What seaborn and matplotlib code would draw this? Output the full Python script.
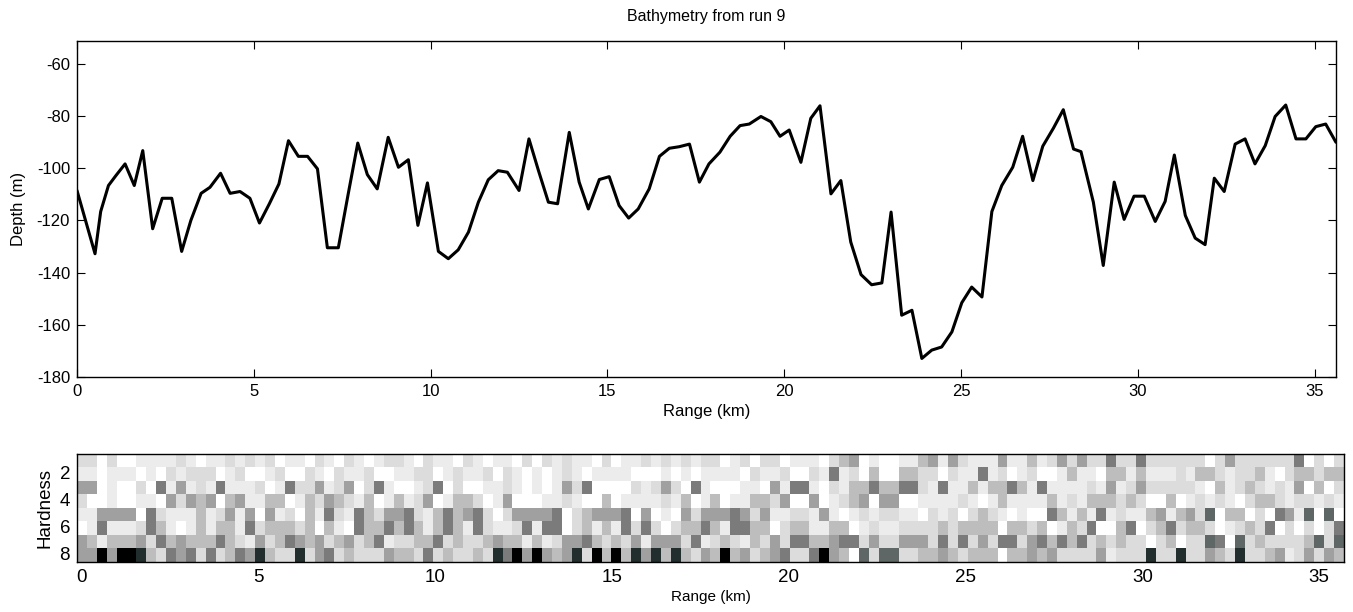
import numpy as np
import pandas as pd
import seaborn as sns
import matplotlib.pyplot as plt
from matplotlib.colors import ListedColormap

# Bathymetry profile (range in km, depth in m)
range_km = [0.00, 0.51, 0.67, 0.89, 1.10, 1.36, 1.62, 1.86, 2.14, 2.41,
            2.68, 2.96, 3.22, 3.51, 3.76, 4.06, 4.33, 4.61, 4.89, 5.16,
            5.44, 5.71, 5.98, 6.26, 6.52, 6.80, 7.08, 7.39, 7.67, 7.94,
            8.21, 8.49, 8.80, 9.09, 9.37, 9.64, 9.91, 10.22, 10.50, 10.78,
            11.07, 11.35, 11.63, 11.91, 12.17, 12.50, 12.78, 13.05, 13.33, 13.59,
            13.92, 14.20, 14.46, 14.77, 15.05, 15.33, 15.60, 15.87, 16.18, 16.47,
            16.75, 17.03, 17.32, 17.60, 17.87, 18.18, 18.47, 18.75, 19.01, 19.34,
            19.62, 19.88, 20.14, 20.47, 20.75, 21.01, 21.32, 21.60, 21.88, 22.17,
            22.47, 22.76, 23.02, 23.32, 23.61, 23.89, 24.17, 24.45, 24.74, 25.02,
            25.30, 25.59, 25.87, 26.15, 26.46, 26.74, 27.03, 27.31, 27.61, 27.89,
            28.18, 28.39, 28.74, 29.02, 29.33, 29.61, 29.89, 30.18, 30.49, 30.77,
            31.03, 31.34, 31.62, 31.90, 32.16, 32.44, 32.75, 33.03, 33.31, 33.60,
            33.88, 34.18, 34.47, 34.75, 35.03, 35.31, 35.60]
depth_m = [-108.5, -132.8, -116.6, -106.6, -102.8, -98.3, -106.6, -93.2, -123.2, -111.5,
           -111.5, -131.9, -120.0, -109.6, -107.3, -101.9, -109.6, -108.9, -111.5, -121.0,
           -113.6, -106.0, -89.4, -95.4, -95.4, -100.2, -130.5, -130.5, -109.8, -90.3,
           -102.4, -107.9, -88.1, -99.6, -96.7, -121.9, -105.6, -131.9, -134.7, -131.3,
           -124.5, -113.0, -104.4, -100.9, -101.5, -108.5, -88.7, -100.9, -113.0, -113.6,
           -86.2, -105.3, -115.6, -104.3, -103.2, -114.3, -119.1, -115.6, -107.9, -95.4,
           -92.3, -91.7, -90.7, -105.3, -98.3, -93.8, -87.7, -83.6, -83.0, -80.1,
           -82.1, -87.7, -85.3, -97.7, -80.8, -76.0, -109.8, -104.7, -128.3, -140.8,
           -144.7, -144.0, -116.8, -156.4, -154.5, -173.0, -169.8, -168.6, -162.8, -151.6,
           -145.6, -149.4, -116.6, -106.6, -99.6, -87.7, -104.7, -91.5, -84.6, -77.5,
           -92.6, -93.6, -113.0, -137.3, -105.3, -119.6, -110.7, -110.7, -120.4, -112.7,
           -94.9, -118.1, -126.8, -129.3, -103.8, -108.9, -90.7, -88.7, -98.3, -91.3,
           -80.1, -75.7, -88.7, -88.7, -84.0, -83.0, -90.0]

# Hardness grey levels (0 = white ... 9 = black), one string per hardness class 1..8
hardness_1 = ("22020011112101121212011021" "0210122102110210110202121"
              "10201121212122012022011102" "4501001145152111511412525"
              "22622622222202522222260202")
hardness_2 = ("11011101021222012001200210" "2112001122012112021010121"
              "01111000101011110211200216" "1204004422021161201200141"
              "10441411121442122410244244")
hardness_3 = ("55010020615121611120162251" "2502610012602001121010152"
              "60000212520610001105166102" "1446446621611414464161111"
              "21512522222104124212150402")
hardness_4 = ("20010011052545045114401425" "4214014125014420150001121"
              "00401111214014011442500501" "2450550011112101411114121"
              "44424200401212102442122121")
hardness_5 = ("11555506211141251505120416" "2164255621464562025555602"
              "45556050105255565251122151" "0121221102120242101006414"
              "16121145145270440206517070")
hardness_6 = ("01611126410141441624442404" "1064464641464162112616602"
              "41416262024464166440244114" "4012112222424444044240142"
              "60046024624420124260202026")
hardness_7 = ("54144452645444642152465452" "4524612244624224544141255"
              "64242515552612421425266445" "6625225552626252662564646"
              "24242202402276072422224727")
hardness_8 = ("55959984265626246584228256" "2422254426242242869595458"
              "29494858484254945245622695" "4072772244542444044545222"
              "25122282282254282245125254")
hardness_rows = [hardness_1, hardness_2, hardness_3, hardness_4,
                 hardness_5, hardness_6, hardness_7, hardness_8]
hardness_classes = [1, 2, 3, 4, 5, 6, 7, 8]
cell_km = 0.28

range_ticks = [0, 5, 10, 15, 20, 25, 30, 35]
depth_ticks = [-180, -160, -140, -120, -100, -80, -60]
hardness_ticks = [2, 4, 6, 8]

sns.set_style("ticks")
plt.rcParams['font.family'] = ['Liberation Sans', 'DejaVu Sans']
plt.rcParams['axes.unicode_minus'] = False
for key in ['text.color', 'axes.labelcolor', 'xtick.color', 'ytick.color']:
    plt.rcParams[key] = 'black'

fig = plt.figure(figsize=(13.53, 6.12), dpi=100)
ax1 = fig.add_axes([0.0569, 0.3845, 0.9305, 0.549])
ax2 = fig.add_axes([0.0569, 0.0817, 0.9364, 0.1765])

# top: depth profile
profile = pd.DataFrame({'Range (km)': range_km, 'Depth (m)': depth_m})
sns.lineplot(data=profile, x='Range (km)', y='Depth (m)', ax=ax1,
             color='black', linewidth=2.2)
ax1.set_xlim(0, 35.6)
ax1.set_ylim(-180, -51)
ax1.set_xticks(range_ticks)
ax1.set_yticks(depth_ticks)
ax1.tick_params(direction='in', top=True, right=True, length=6, width=0.8,
                labelsize=12, pad=5)
ax1.set_title('Bathymetry from run 9', fontsize=11.5, pad=14)
ax1.set_xlabel('Range (km)', fontsize=12, labelpad=4)
ax1.set_ylabel('Depth (m)', fontsize=12, labelpad=8)
for s in ax1.spines.values():
    s.set_linewidth(1.0)
    s.set_color('black')

# bottom: hardness image
levels = np.array([[int(c) for c in row] for row in hardness_rows])
grid = pd.DataFrame(levels, index=hardness_classes)
greys = ListedColormap(['#ffffff', '#ececec', '#dcdcdc', '#cccccc', '#bdbdbd',
                        '#a0a0a0', '#7b7b7b', '#5e6666', '#222d2d', '#000000'])
sns.heatmap(grid, ax=ax2, cmap=greys, vmin=-0.5, vmax=9.5, cbar=False)
ax2.set_xticks([k / cell_km + 0.5 for k in range_ticks])
ax2.set_xticklabels([str(k) for k in range_ticks], rotation=0)
ax2.set_yticks([h - 0.5 for h in hardness_ticks])
ax2.set_yticklabels([str(h) for h in hardness_ticks], rotation=0)
ax2.tick_params(direction='in', top=True, right=True, length=5, width=0.8,
                labelsize=13.5, pad=5)
ax2.set_xlabel('Range (km)', fontsize=11, labelpad=3)
ax2.set_ylabel('Hardness', fontsize=13.5, labelpad=4)
for s in ax2.spines.values():
    s.set_visible(True)
    s.set_linewidth(1.0)
    s.set_color('black')

fig.savefig('out.png', dpi=100)
